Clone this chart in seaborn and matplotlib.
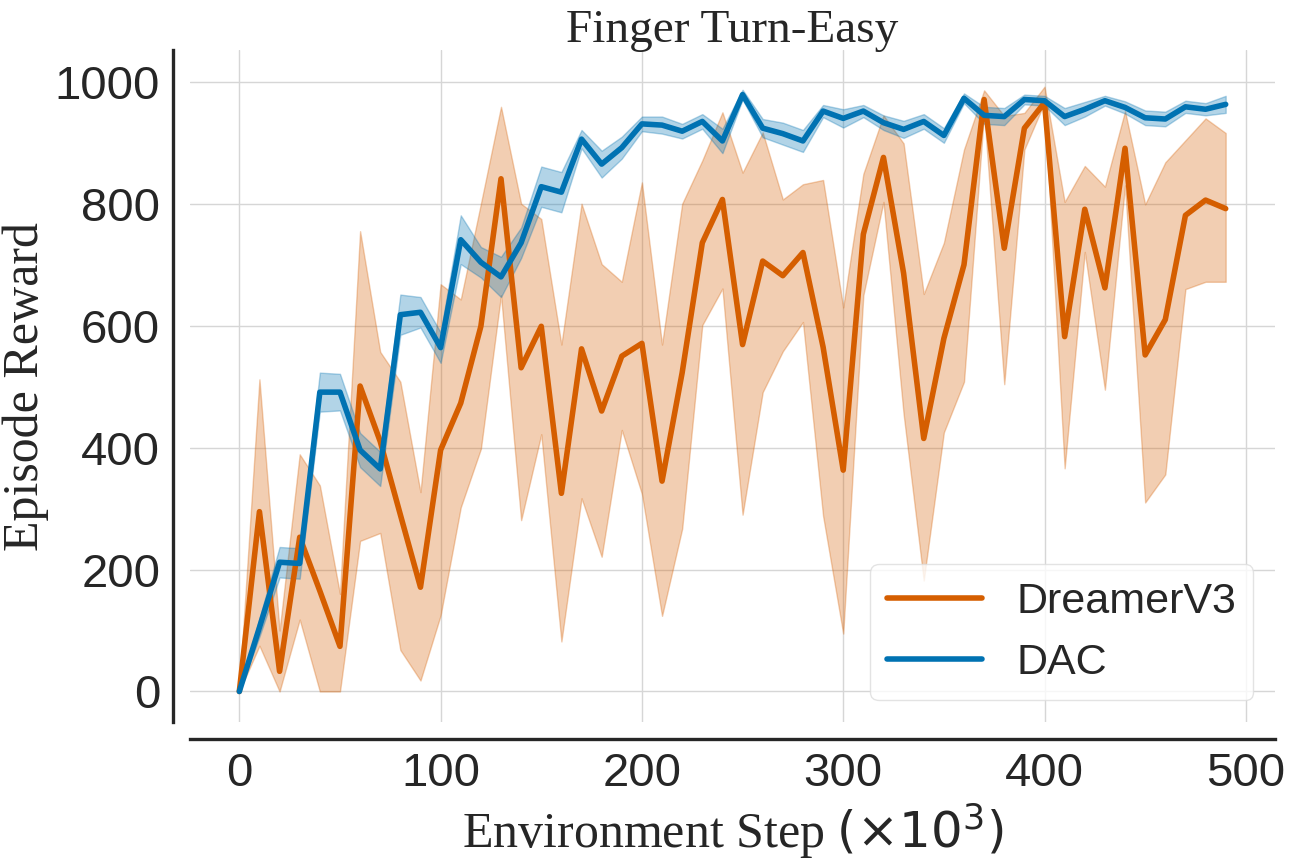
import numpy as np
import pandas as pd
import matplotlib
matplotlib.use('Agg')
import matplotlib.pyplot as plt
import seaborn as sns

steps = list(range(0, 500, 10))

dreamer_mean = [0, 295, 33, 253, 165, 74, 501, 410, 290, 171,
                396, 473, 599, 841, 531, 599, 325, 562, 460, 550,
                571, 345, 523, 736, 807, 569, 706, 682, 720, 565,
                363, 750, 876, 686, 415, 579, 700, 971, 727, 924,
                966, 582, 791, 662, 891, 552, 610, 781, 806, 792]
dreamer_upper = [5, 512, 100, 389, 338, 160, 755, 557, 508, 327,
                 668, 643, 800, 959, 800, 775, 569, 800, 701, 672,
                 835, 569, 800, 871, 950, 851, 917, 807, 832, 839,
                 630, 849, 945, 899, 652, 736, 889, 986, 944, 949,
                 992, 803, 862, 828, 952, 799, 868, 904, 940, 916]
dreamer_lower = [0, 75, 0, 118, 0, 0, 247, 260, 68, 18,
                 125, 302, 398, 650, 281, 422, 82, 317, 221, 429,
                 324, 124, 267, 601, 661, 290, 491, 558, 606, 288,
                 95, 650, 803, 455, 182, 425, 508, 950, 504, 889,
                 966, 366, 721, 495, 830, 310, 356, 660, 672, 672]

dac_mean = [0, 105, 212, 210, 491, 491, 396, 365, 618, 622,
            564, 741, 704, 680, 736, 828, 819, 906, 865, 892,
            931, 929, 919, 935, 903, 979, 924, 915, 903, 952,
            940, 952, 933, 922, 935, 912, 973, 945, 943, 971,
            969, 943, 955, 969, 958, 941, 939, 959, 955, 963]
dac_err = [0, 15, 25, 25, 32, 30, 28, 28, 33, 25,
           25, 40, 25, 33, 25, 33, 33, 15, 22, 18,
           12, 14, 12, 12, 20, 8, 15, 18, 18, 10,
           15, 10, 12, 14, 12, 12, 8, 14, 14, 8,
           8, 14, 12, 8, 10, 12, 12, 10, 10, 14]

colors = {'DreamerV3': '#D55E00', 'DAC': '#0072B2'}

df = pd.DataFrame({
    'step': steps * 2,
    'reward': dreamer_mean + dac_mean,
    'method': ['DreamerV3'] * len(steps) + ['DAC'] * len(steps),
})

sns.set_theme(style='whitegrid', rc={'grid.color': '#d6d6d6'})
plt.rcParams['font.family'] = ['Liberation Sans', 'DejaVu Sans']
plt.rcParams['mathtext.fontset'] = 'dejavusans'

fig, ax = plt.subplots(figsize=(12.96, 8.64), dpi=100)
fig.subplots_adjust(left=0.1466, right=0.9838, top=0.942, bottom=0.1644)

sns.lineplot(data=df, x='step', y='reward', hue='method', palette=colors,
             linewidth=4, ax=ax, zorder=3)

ax.fill_between(steps, dreamer_lower, dreamer_upper, color=colors['DreamerV3'],
                alpha=0.3, linewidth=1, zorder=2)
dac_lo = np.array(dac_mean) - np.array(dac_err)
dac_hi = np.array(dac_mean) + np.array(dac_err)
ax.fill_between(steps, dac_lo, dac_hi, color=colors['DAC'],
                alpha=0.3, linewidth=1, zorder=2.5)

ax.set_xlim(-24.5, 514.5)
ax.set_ylim(-50, 1052)
ax.set_xticks([0, 100, 200, 300, 400, 500])
ax.set_yticks([0, 200, 400, 600, 800, 1000])
ax.tick_params(axis='both', labelsize=34, colors='#262626')

ax.set_title('Finger Turn-Easy', fontsize=34, family='Liberation Serif',
             color='#262626', pad=6)
ax.set_xlabel(r'Environment Step $(\times 10^3)$', fontsize=36,
              family='Liberation Serif', color='#262626')
ax.set_ylabel('Episode Reward', fontsize=36, family='Liberation Serif',
              color='#262626')

sns.despine(ax=ax, offset=12)
for side in ['left', 'bottom']:
    ax.spines[side].set_color('#262626')
    ax.spines[side].set_linewidth(2.4)

leg = ax.legend(loc='lower right', fontsize=31, title=None, handlelength=2.2)
leg.get_frame().set_edgecolor('#dddddd')
for line in leg.get_lines():
    line.set_linewidth(4)

fig.savefig('out.png', dpi=100)
